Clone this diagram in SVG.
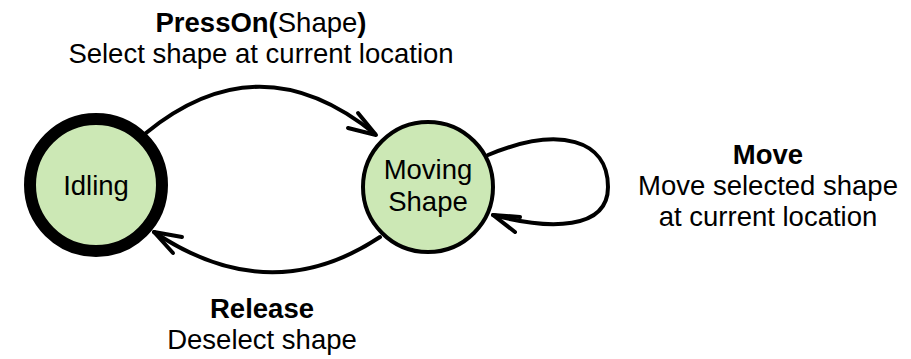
<svg xmlns="http://www.w3.org/2000/svg" width="911" height="359" viewBox="0 0 911 359">
<defs>
<style>
text{font-family:"Liberation Sans",Arial,sans-serif;font-size:27.5px;fill:#000;text-anchor:middle}
.b{font-weight:bold}
.state{fill:#cce8b5;stroke:#000}
.edge{fill:none;stroke:#000;stroke-width:4;stroke-linecap:round;stroke-linejoin:round}
</style>
</defs>
<rect width="911" height="359" fill="#fff"/>
<g id="connectors">
<path class="edge" d="M146,133 Q260,40 375,134"/>
<path class="edge" d="M358,113 L376,135 L348,128"/>
<path class="edge" d="M380,237 Q270,310 154,232"/>
<path class="edge" d="M182,237 L154,232 L173,253"/>
<path class="edge" d="M488,155 C560,125 608,140 608,187 C608,230 550,230 493,215"/>
<path class="edge" d="M520,217 L493,215 L515,232"/>
</g>
<g id="idling">
<circle class="state" cx="96" cy="185" r="66" stroke-width="12"/>
<text x="96" y="195">Idling</text>
</g>
<g id="moving">
<circle class="state" cx="428" cy="187" r="65" stroke-width="4"/>
<text x="428" y="179">Moving</text>
<text x="428" y="211">Shape</text>
</g>
<g id="labels">
<text x="261" y="32"><tspan class="b">PressOn(</tspan>Shape<tspan class="b">)</tspan></text>
<text x="261" y="63">Select shape at current location</text>
<text x="768" y="164" class="b">Move</text>
<text x="768" y="195">Move selected shape</text>
<text x="768" y="226">at current location</text>
<text x="262" y="318" class="b">Release</text>
<text x="262" y="349">Deselect shape</text>
</g>
</svg>
